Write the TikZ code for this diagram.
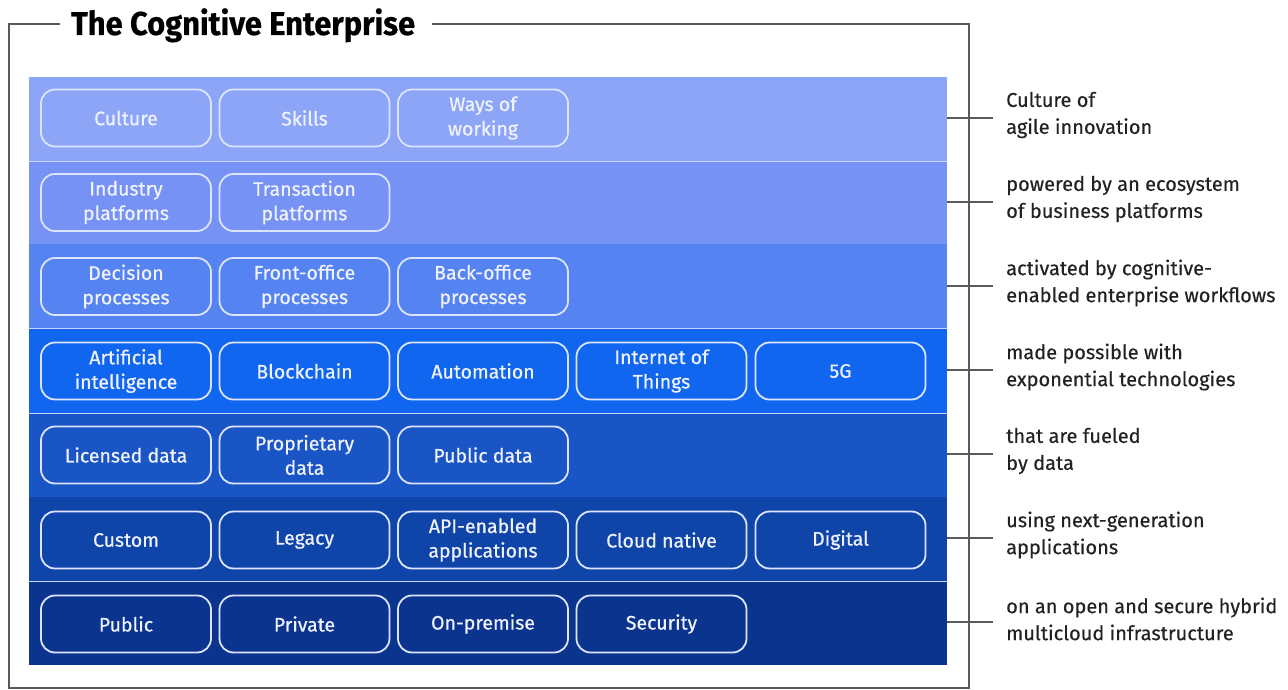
\documentclass[tikz,border=0pt]{standalone}
\usepackage{fontspec}
\setmainfont{Fira Sans}
\newfontfamily\headfont{Fira Sans}[FakeStretch=0.935,FakeBold=0.5]
\newfontfamily\chipfont{Fira Sans}[FakeBold=0.6]
\newfontfamily\capfont{Fira Sans}[FakeBold=0.4]
\usetikzlibrary{positioning}

% layer colours, lightest (top) to darkest (bottom)
\definecolor{layerA}{HTML}{8CA5F7}
\definecolor{layerB}{HTML}{7592F4}
\definecolor{layerC}{HTML}{5683F2}
\definecolor{layerD}{HTML}{1066EE}
\definecolor{layerE}{HTML}{1A55C6}
\definecolor{layerF}{HTML}{0F45A8}
\definecolor{layerG}{HTML}{0B348E}
\definecolor{chipline}{HTML}{DCE4FF}
\definecolor{chiptext}{HTML}{F0F3FF}
\definecolor{framegray}{HTML}{5A5A5A}
\definecolor{captext}{HTML}{222222}
\definecolor{sepline}{HTML}{C8D6FF}

\tikzset{
  layer/.style={fill=#1, draw=none, inner sep=0pt, minimum width=918pt, minimum height=84pt, anchor=north west},
  chip/.style={draw=chipline, line width=1.8pt, rounded corners=14pt, minimum width=170pt,
    minimum height=57pt, inner sep=0pt, align=center, text=chiptext,
    font=\chipfont\fontsize{19.5}{24.5}\selectfont},
  caption/.style={anchor=west, align=left, text=captext, font=\capfont\fontsize{20}{27}\selectfont, inner sep=0pt},
  tick/.style={draw=framegray, line width=1.4pt},
  frame/.style={draw=framegray, line width=1.8pt},
  sep/.style={draw=sepline, line width=1.6pt}
}

\begin{document}
\begin{tikzpicture}[x=1pt,y=-1pt]
\useasboundingbox (0,0) rectangle (1288,690);

% outer frame with the heading sitting on its top edge
\node[anchor=base west, inner sep=0pt, font=\headfont\bfseries\fontsize{33}{33}\selectfont, text=black]
  (title) at (71,35) {The Cognitive Enterprise};
\draw[frame] (60,24) -- (9,24) -- (9,688) -- (969,688) -- (969,24) -- (432,24);

% stacked layers
\node[layer=layerA] (L1) at (29,77)  {};
\node[layer=layerB, minimum height=83pt] (L2) at (29,161) {};
\node[layer=layerC, minimum height=84pt] (L3) at (29,244) {};
\node[layer=layerD, minimum height=85pt] (L4) at (29,328) {};
\node[layer=layerE, minimum height=84pt] (L5) at (29,413) {};
\node[layer=layerF, minimum height=84pt] (L6) at (29,497) {};
\node[layer=layerG, minimum height=84pt] (L7) at (29,581) {};

% thin separators between some layers
\draw[sep] (L1.south west) -- (L1.south east);
\draw[sep] (L3.south west) -- (L3.south east);
\draw[sep] (L4.south west) -- (L4.south east);
\draw[sep] (L6.south west) -- (L6.south east);

% chips, row by row
\node[chip] (c11) at (126,118)   {Culture};
\node[chip] (c12) at (304.5,118) {Skills};
\node[chip] (c13) at (483,118)   {Ways of\\working};

\node[chip] (c21) at (126,202.5)   {Industry\\platforms};
\node[chip] (c22) at (304.5,202.5) {Transaction\\platforms};

\node[chip] (c31) at (126,286.5)   {Decision\\processes};
\node[chip] (c32) at (304.5,286.5) {Front-office\\processes};
\node[chip] (c33) at (483,286.5)   {Back-office\\processes};

\node[chip] (c41) at (126,371)   {Artificial\\intelligence};
\node[chip] (c42) at (304.5,371) {Blockchain};
\node[chip] (c43) at (483,371)   {Automation};
\node[chip] (c44) at (661.5,371) {Internet of\\Things};
\node[chip] (c45) at (840.5,371) {5G};

\node[chip] (c51) at (126,455)   {Licensed data};
\node[chip] (c52) at (304.5,455) {Proprietary\\data};
\node[chip] (c53) at (483,455)   {Public data};

\node[chip] (c61) at (126,540)   {Custom};
\node[chip] (c62) at (304.5,540) {Legacy};
\node[chip] (c63) at (483,540)   {API-enabled\\applications};
\node[chip] (c64) at (661.5,540) {Cloud native};
\node[chip] (c65) at (840.5,540) {Digital};

\node[chip] (c71) at (126,624)   {Public};
\node[chip] (c72) at (304.5,624) {Private};
\node[chip] (c73) at (483,624)   {On-premise};
\node[chip] (c74) at (661.5,624) {Security};

% captions on the right, each tied to its layer by a short tick
\foreach \n/\y/\txt in {
  1/115/{Culture of\\agile innovation},
  2/199/{powered by an ecosystem\\of business platforms},
  3/283/{activated by cognitive-\\enabled enterprise workflows},
  4/367/{made possible with\\exponential technologies},
  5/451/{that are fueled\\by data},
  6/535/{using next-generation\\applications},
  7/619/{on an open and secure hybrid\\multicloud infrastructure}}{
  \node[caption] (cap\n) at (1006,\y) {\txt};
  \coordinate (tk\n) at (993,{\y+3});
  \draw[tick] (L\n.east |- tk\n) -- (tk\n);
}
\end{tikzpicture}
\end{document}
